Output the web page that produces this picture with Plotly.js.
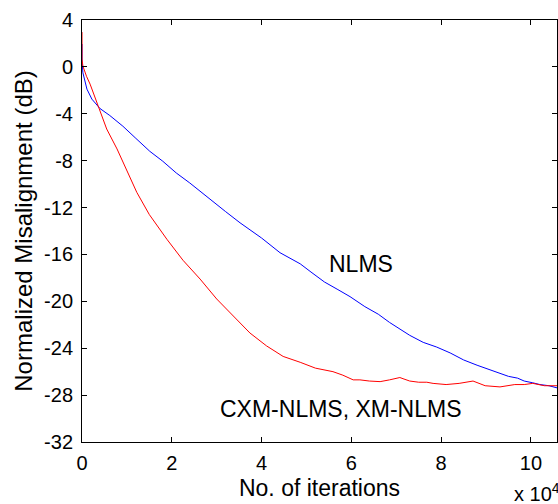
<!DOCTYPE html>
<html>
<head>
<meta charset="utf-8">
<script src="https://cdn.plot.ly/plotly-3.0.1.min.js"></script>
<style>html,body{margin:0;padding:0;background:#fff;}#chart{width:558px;height:504px;}</style>
</head>
<body>
<div id="chart"></div>
<script>
// iterations in units of 10^4
const nlmsX = [0,0,0.02,0.05,0.11,0.22,0.32,0.40,0.62,0.91,1.2,1.51,1.8,2.1,2.4,2.63,2.9,3.2,3.52,3.74,4.0,4.41,4.86,5.1,5.4,5.7,5.97,6.3,6.6,6.85,7.08,7.3,7.6,7.9,8.2,8.5,8.8,9.05,9.31,9.5,9.7,9.85,10.04,10.2,10.4,10.6];
const nlmsY = [1.95,0.5,-0.5,-1.04,-1.9,-2.75,-3.2,-3.55,-4.15,-5.06,-6.1,-7.2,-8.05,-9.05,-9.9,-10.6,-11.5,-12.35,-13.3,-13.9,-14.6,-15.85,-16.8,-17.5,-18.35,-19.0,-19.6,-20.45,-21.1,-21.8,-22.35,-22.9,-23.5,-23.9,-24.4,-25.0,-25.45,-25.8,-26.1,-26.4,-26.55,-26.8,-26.95,-27.1,-27.2,-27.4];
const xmX = [0,0,0.02,0.05,0.1,0.18,0.28,0.40,0.55,0.78,1.0,1.22,1.5,1.89,2.25,2.63,3.0,3.36,3.59,3.74,4.11,4.48,4.86,5.2,5.59,5.81,6.04,6.19,6.4,6.64,6.85,7.08,7.15,7.3,7.5,7.68,7.82,8.11,8.4,8.71,8.98,9.31,9.64,9.85,10.04,10.3,10.6];
const xmY = [2.97,0.67,0.07,-0.3,-0.8,-1.47,-2.5,-3.6,-5.3,-7.0,-8.9,-10.7,-12.6,-14.7,-16.5,-18.1,-19.8,-21.2,-22.1,-22.7,-23.8,-24.7,-25.2,-25.7,-26.0,-26.3,-26.7,-26.7,-26.8,-26.85,-26.7,-26.5,-26.6,-26.8,-26.9,-26.9,-27.0,-27.1,-27.0,-26.8,-27.2,-27.3,-27.1,-27.1,-27.0,-27.2,-27.2];
const xTicks = [0,2,4,6,8,10];
const yTicks = [4,0,-4,-8,-12,-16,-20,-24,-28,-32];
const labels = {nlms: "NLMS", xm: "CXM-NLMS, XM-NLMS", xTitle: "No. of iterations", yTitle: "Normalized Misalignment (dB)", scale: "x 10<sup>4</sup>"};

const font = "Liberation Sans, Arial, sans-serif";
const traces = [
  {x: nlmsX, y: nlmsY, type: "scatter", mode: "lines", line: {color: "#0000ff", width: 1}, hoverinfo: "skip"},
  {x: xmX, y: xmY, type: "scatter", mode: "lines", line: {color: "#ff0000", width: 1}, hoverinfo: "skip"}
];
const layout = {
  width: 558, height: 504,
  margin: {l: 82, r: 1, t: 20, b: 62},
  paper_bgcolor: "#fff", plot_bgcolor: "#fff",
  showlegend: false,
  font: {family: font, size: 20, color: "#000"},
  xaxis: {
    range: [0, 10.58], tickvals: xTicks, ticktext: xTicks.map(String),
    ticks: "inside", ticklen: 5, tickcolor: "#000", tickwidth: 1,
    showline: true, linecolor: "#000", linewidth: 1, mirror: "ticks",
    showgrid: false, zeroline: false, ticklabelstandoff: 3,
    tickfont: {family: font, size: 20},
    title: {text: labels.xTitle, font: {family: font, size: 23}, standoff: 6}
  },
  yaxis: {
    range: [-32, 4], tickvals: yTicks, ticktext: yTicks.map(String),
    ticks: "inside", ticklen: 5, tickcolor: "#000", tickwidth: 1,
    showline: true, linecolor: "#000", linewidth: 1, mirror: "ticks",
    showgrid: false, zeroline: false, ticklabelstandoff: 4,
    tickfont: {family: font, size: 20},
    title: {text: labels.yTitle, font: {family: font, size: 24}, standoff: 4}
  },
  annotations: [
    {x: 6.21, y: -16.8, xref: "x", yref: "y", text: labels.nlms, showarrow: false, font: {family: font, size: 23}},
    {x: 5.77, y: -29.2, xref: "x", yref: "y", text: labels.xm, showarrow: false, font: {family: font, size: 23}},
    {x: 0.905, y: -0.085, xref: "paper", yref: "paper", xanchor: "left", yanchor: "top", text: labels.scale, showarrow: false, font: {family: font, size: 20}}
  ]
};
Plotly.newPlot("chart", traces, layout, {staticPlot: true});
</script>
</body>
</html>
